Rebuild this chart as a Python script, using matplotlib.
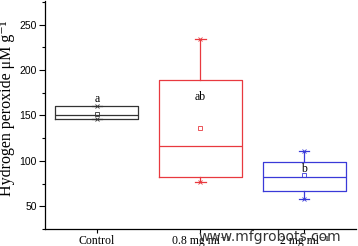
import matplotlib
matplotlib.use("Agg")
import matplotlib.pyplot as plt
from matplotlib.ticker import MultipleLocator

categories = ["Control", "0.8 mg ml\u207b\u00b9", "2 mg ml\u207b\u00b9"]
whislo = [146, 77, 58]
q1 = [146, 82, 67]
med = [150, 116, 82]
q3 = [160, 189, 99]
whishi = [160, 234, 111]
means = [152, 136, 84]
letters = ["a", "ab", "b"]
letter_y = [168, 170, 91]
colors = ["#333333", "#e8393f", "#3a3ad8"]

serif = ["Liberation Serif", "DejaVu Serif"]

fig = plt.figure(figsize=(3.58, 2.46), dpi=100)
ax = fig.add_axes([0.1257, 0.0691, 0.8687, 0.927])

positions = [1, 2, 3]
for i in range(3):
    c = colors[i]
    st = dict(med=med[i], q1=q1[i], q3=q3[i], whislo=whislo[i],
              whishi=whishi[i], mean=means[i], fliers=[], label=categories[i])
    ax.bxp([st], positions=[positions[i]], widths=0.8, showmeans=True,
           patch_artist=False, manage_ticks=False, capwidths=0.1,
           boxprops=dict(color=c, lw=0.9),
           medianprops=dict(color=c, lw=0.9),
           whiskerprops=dict(color=c, lw=0.9),
           capprops=dict(color=c, lw=0.9),
           meanprops=dict(marker="s", markerfacecolor="none", markeredgecolor=c,
                          markersize=2.5, markeredgewidth=0.6))
    ax.plot([positions[i]] * 2, [whislo[i], whishi[i]], ls="none", marker="x",
            color=c, markersize=3, markeredgewidth=0.6)
    ax.text(positions[i], letter_y[i], letters[i], ha="center", va="center",
            family=serif, fontsize=8.5)

ax.set_xlim(0.5, 3.5)
ax.set_ylim(25, 276)
ax.set_xticks(positions)
ax.set_xticklabels(categories, family=serif, fontsize=8.5)
ax.set_yticks([50, 100, 150, 200, 250])
ax.yaxis.set_minor_locator(MultipleLocator(25))
for lab in ax.get_yticklabels():
    lab.set_family("Liberation Sans")
    lab.set_fontsize(7.5)
ax.tick_params(axis="y", which="major", direction="out", length=4, width=0.8, pad=2)
ax.tick_params(axis="y", which="minor", direction="out", length=2, width=0.8)
ax.tick_params(axis="x", which="major", direction="out", length=3, width=0.8, pad=1.5)
ax.spines["top"].set_visible(False)
ax.spines["right"].set_visible(False)
ax.spines["left"].set_linewidth(0.9)
ax.spines["bottom"].set_linewidth(0.9)
ax.set_ylabel("Hydrogen peroxide \u03bcM g\u207b\u00b9", family=serif, fontsize=11.5)
ax.yaxis.set_label_coords(-0.098, 0.53)

fig.text(0.553, 0.035, "www.mfgrobots.com", fontsize=10, color="#333333",
         family="DejaVu Sans", ha="left", va="center")

fig.savefig("out.png", dpi=100)
